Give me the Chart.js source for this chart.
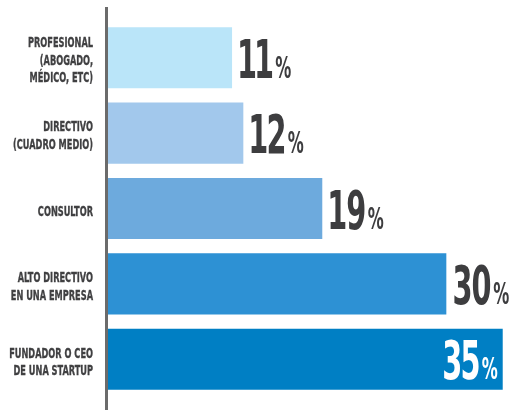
<!DOCTYPE html>
<html>
<head>
<meta charset="utf-8">
<script src="https://cdn.jsdelivr.net/npm/chart.js@4"></script>
<style>
  html, body { margin: 0; padding: 0; background: #fff; }
  #wrap { width: 514px; height: 410px; position: relative; }
</style>
</head>
<body>
<div id="wrap"><canvas id="roleChart"></canvas></div>
<script>
// --- Data ---
const categories = [
    ['PROFESIONAL', '(ABOGADO,', 'MÉDICO, ETC)'],
    ['DIRECTIVO', '(CUADRO MEDIO)'],
    ['CONSULTOR'],
    ['ALTO DIRECTIVO', 'EN UNA EMPRESA'],
    ['FUNDADOR O CEO', 'DE UNA STARTUP']
];
const values = [11, 12, 19, 30, 35];
const barColors = ['#bae5f9', '#a2c8ec', '#6daadd', '#2d91d4', '#007fc4'];

const narrow = '"Liberation Sans Narrow", "DejaVu Sans Condensed", sans-serif';

// labels, axis line and value texts are drawn by hand (condensed type)
const overlay = {
    id: 'overlay',
    afterDatasetsDraw(chart) {
        const ctx = chart.ctx;
        const area = chart.chartArea;
        const yScale = chart.scales.y;
        const meta = chart.getDatasetMeta(0);

        ctx.save();
        // vertical axis line
        ctx.fillStyle = '#6b6b6b';
        ctx.fillRect(area.left - 3, 7, 3, chart.height - 7);

        // category labels
        ctx.font = 'bold 14px ' + narrow;
        ctx.fillStyle = '#404042';
        ctx.textAlign = 'right';
        ctx.textBaseline = 'alphabetic';
        const labelSx = 65 / ctx.measureText('PROFESIONAL').width;
        categories.forEach((lines, i) => {
            const cy = yScale.getPixelForValue(i) + 2;
            lines.forEach((t, j) => {
                const by = cy + (j - (lines.length - 1) / 2) * 17.5 + 5;
                ctx.save();
                ctx.translate(area.left - 15, by);
                ctx.scale(labelSx, 1);
                ctx.fillText(t, 0, 0);
                ctx.strokeStyle = ctx.fillStyle;
                ctx.lineWidth = 0.35;
                ctx.strokeText(t, 0, 0);
                ctx.restore();
            });
        });

        // value labels
        ctx.textAlign = 'left';
        const digitFont = 'bold 53px ' + narrow;
        const pctFont = 'bold 30px ' + narrow;
        ctx.font = digitFont;
        const m0 = ctx.measureText('0');
        const digitSx = 17.5 / (m0.actualBoundingBoxLeft + m0.actualBoundingBoxRight);
        ctx.font = pctFont;
        const mp = ctx.measureText('%');
        const pctSx = 16 / (mp.actualBoundingBoxLeft + mp.actualBoundingBoxRight);

        function ink(ch, font, sx) {
            ctx.font = font;
            const m = ctx.measureText(ch);
            return { left: m.actualBoundingBoxLeft * sx, width: (m.actualBoundingBoxLeft + m.actualBoundingBoxRight) * sx };
        }
        // glyphs placed one by one by their ink, with a small gap
        function layout(str) {
            const parts = str.split('').map(ch => ({ ch, font: digitFont, sx: digitSx, gap: 2 }));
            parts.push({ ch: '%', font: pctFont, sx: pctSx, gap: 3 });
            let w = 0;
            parts.forEach((p, k) => {
                p.info = ink(p.ch, p.font, p.sx);
                if (k > 0) w += p.gap;
                p.offset = w;
                w += p.info.width;
            });
            return { parts, width: w };
        }

        meta.data.forEach((bar, i) => {
            const lay = layout(String(values[i]));
            let x0 = bar.x + 8;
            ctx.fillStyle = '#3d3d3f';
            if (x0 + lay.width > area.right) {
                x0 = bar.x - 5 - lay.width;
                ctx.fillStyle = '#ffffff';
            }
            const base = bar.y + 20;
            lay.parts.forEach(p => {
                ctx.save();
                ctx.font = p.font;
                ctx.translate(x0 + p.offset + p.info.left, base);
                ctx.scale(p.sx, 1);
                ctx.fillText(p.ch, 0, 0);
                ctx.restore();
            });
        });
        ctx.restore();
    }
};

const ctx = document.getElementById('roleChart').getContext('2d');
new Chart(ctx, {
    type: 'bar',
    data: {
        labels: categories,
        datasets: [{
            data: values,
            backgroundColor: barColors,
            borderWidth: 0,
            barPercentage: 0.81,
            categoryPercentage: 1
        }]
    },
    options: {
        indexAxis: 'y',
        responsive: true,
        maintainAspectRatio: false,
        animation: false,
        layout: { padding: { left: 108, right: 0, top: 20, bottom: 13 } },
        plugins: {
            legend: { display: false },
            tooltip: { enabled: false }
        },
        scales: {
            x: { display: false, min: 0, max: 36 },
            y: { display: false }
        }
    },
    plugins: [overlay]
});
</script>
</body>
</html>
